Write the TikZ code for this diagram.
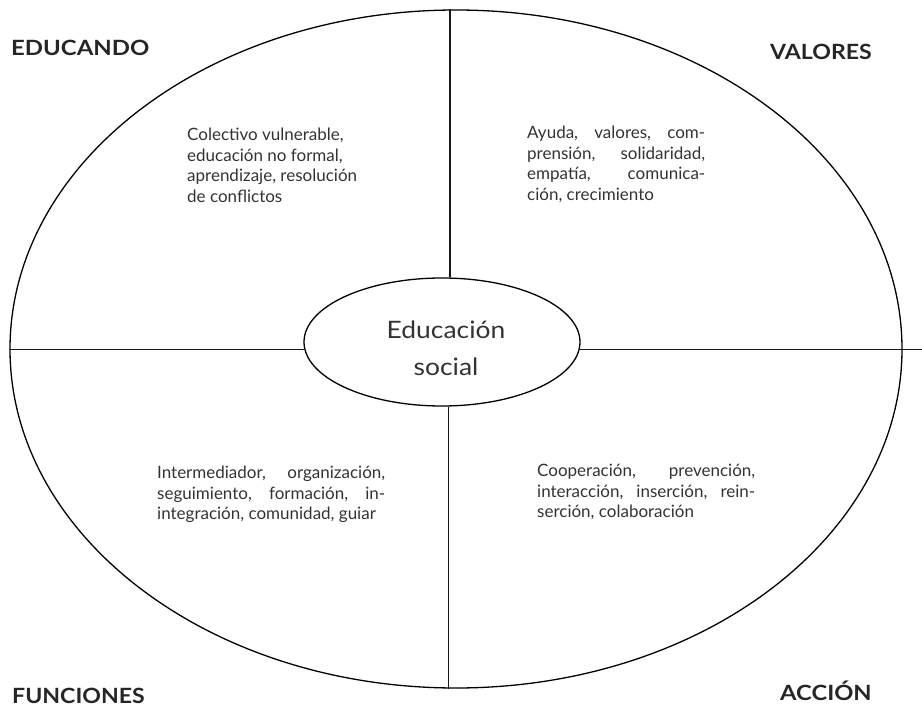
\documentclass[tikz,border=0pt]{standalone}
\usepackage{fontspec}
\setmainfont{Lato}
\usetikzlibrary{shapes.geometric}
\tikzset{
  line/.style={draw=black!90, line width=1.4pt},
  heading/.style={font=\fontsize{21}{24}\selectfont\bfseries, text=black!85, inner sep=0pt, anchor=base west},
  body/.style={font=\fontsize{17}{20.5}\selectfont, text=black!80, inner sep=0pt, anchor=north west, align=left},
}
\newcommand{\jline}[2]{\makebox[#1][s]{#2}}
\newcommand{\hd}[1]{\scalebox{1.1}[1]{#1}}
\begin{document}
\begin{tikzpicture}[x=1pt,y=-1pt]
\useasboundingbox (0,0) rectangle (922,706);
\node[ellipse, draw=black, line width=1.3pt, minimum width=892pt, minimum height=678pt, inner sep=0pt] (outer) at (456,349) {};
\node[ellipse, draw=black, line width=1.3pt, minimum width=276pt, minimum height=128pt, inner sep=0pt] (core) at (442,342) {};
\node[font=\fontsize{24}{37}\selectfont, text=black!80, align=center, inner sep=0pt] (coretext) at (446,348) {\scalebox{1.1}[1]{Educación}\\\scalebox{1.1}[1]{social}};
\coordinate (rend) at (922,351);
\draw[line] (core.183.77 -| outer.west) -- (core.183.77);
\draw[line] (core.-3.77) -- (core.-3.77 -| rend);
\draw[line] (core.83.75) -- (core.83.75 |- outer.north);
\draw[line] (core.276.25) -- (core.276.25 |- outer.south);

\node[heading] (h1) at (11,56) {\scalebox{1.14}[1]{EDUCANDO}};
\node[heading] (h2) at (770,60) {\hd{VALORES}};
\node[heading] (h3) at (12,703) {\hd{FUNCIONES}};
\node[heading] (h4) at (780,700) {\scalebox{1.13}[1]{ACCIÓN}};

\node[body] (t1) at (187,128) {Colectivo vulnerable,\\educación no formal,\\aprendizaje, resolución\\de conflictos};
\node[body] (t2) at (527,126) {\jline{178pt}{Ayuda, valores, com-}\\\jline{178pt}{prensión, solidaridad,}\\\jline{178pt}{empatía, comunica-}\\ción, crecimiento};
\node[body] (t3) at (157,466) {\jline{228pt}{Intermediador, organización,}\\\jline{228pt}{seguimiento, formación, in-}\\integración, comunidad, guiar};
\node[body] (t4) at (537,464) {\jline{218pt}{Cooperación, prevención,}\\\jline{218pt}{interacción, inserción, rein-}\\serción, colaboración};
\end{tikzpicture}
\end{document}
